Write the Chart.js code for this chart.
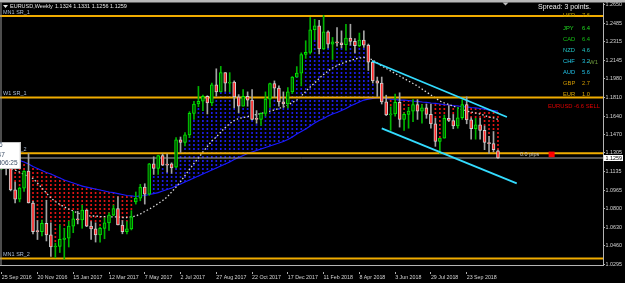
<!DOCTYPE html>
<html><head><meta charset="utf-8">
<script src="https://cdn.jsdelivr.net/npm/chart.js@4.4.1/dist/chart.umd.min.js"></script>
<style>html,body{margin:0;padding:0;background:#000;overflow:hidden}canvas{display:block}</style>
</head><body><canvas id="c" width="625" height="283"></canvas>
<script>
// ---- data (weekly EURUSD, week index 0 = 25 Sep 2016) ----
const opens=[1.1225,1.1240,1.1200,1.0970,1.0885,1.0985,1.1140,1.0850,1.0590,1.0590,
1.0665,1.0560,1.0450,1.0455,1.0520,1.0530,1.0640,1.0705,1.0697,1.0785,
1.0640,1.0615,1.0560,1.0620,1.0670,1.0740,1.0800,1.0650,1.0590,1.0615,
1.0860,1.0895,1.0995,1.0930,1.1205,1.1165,1.1280,1.1200,1.1205,1.1175,
1.1425,1.1400,1.1470,1.1665,1.1750,1.1775,1.1820,1.1760,1.1925,1.1860,
1.2035,1.1940,1.1950,1.1815,1.1730,1.1820,1.1785,1.1610,1.1610,1.1665,
1.1795,1.1935,1.1895,1.1770,1.1750,1.1860,1.1995,1.2030,1.2200,1.2220,
1.2425,1.2460,1.2250,1.2405,1.2295,1.2315,1.2305,1.2290,1.2350,1.2320,
1.2280,1.2330,1.2285,1.2130,1.1960,1.1940,1.1770,1.1650,1.1660,1.1765,
1.1610,1.1655,1.1685,1.1745,1.1685,1.1715,1.1655,1.1570,1.1410,1.1440,
1.1620,1.1600,1.1550,1.1625,1.1745,1.1605,1.1525,1.1560,1.1510,1.1400,
1.1390,1.1324];
const highs=[1.1281,1.1259,1.1215,1.1040,1.0995,1.1145,1.1300,1.0865,1.0690,1.0695,
1.0875,1.0670,1.0485,1.0652,1.0620,1.0685,1.0775,1.0775,1.0830,1.0790,
1.0680,1.0670,1.0630,1.0715,1.0760,1.0830,1.0905,1.0690,1.0680,1.0780,
1.0950,1.1020,1.1025,1.1210,1.1270,1.1285,1.1295,1.1295,1.1215,1.1445,
1.1450,1.1490,1.1680,1.1775,1.1910,1.1830,1.1825,1.1940,1.2070,1.2092,
1.2035,1.2035,1.1960,1.1835,1.1880,1.1860,1.1880,1.1690,1.1670,1.1860,
1.1940,1.1960,1.1915,1.1860,1.1900,1.2000,1.2090,1.2215,1.2325,1.2537,
1.2520,1.2510,1.2555,1.2415,1.2355,1.2445,1.2415,1.2475,1.2475,1.2345,
1.2395,1.2415,1.2295,1.2145,1.1995,1.1995,1.1830,1.1725,1.1840,1.1852,
1.1670,1.1720,1.1790,1.1790,1.1745,1.1750,1.1750,1.1620,1.1435,1.1650,
1.1735,1.1655,1.1720,1.1790,1.1815,1.1625,1.1620,1.1620,1.1550,1.1455,
1.1500,1.1331];
const lows=[1.1154,1.1105,1.0960,1.0850,1.0860,1.0955,1.0850,1.0570,1.0518,1.0550,
1.0505,1.0365,1.0352,1.0400,1.0340,1.0450,1.0580,1.0660,1.0620,1.0635,
1.0520,1.0495,1.0495,1.0525,1.0600,1.0735,1.0650,1.0570,1.0570,1.0605,
1.0840,1.0870,1.0840,1.0920,1.1110,1.1110,1.1190,1.1130,1.1120,1.1170,
1.1310,1.1370,1.1445,1.1610,1.1725,1.1690,1.1660,1.1735,1.1825,1.1860,
1.1865,1.1860,1.1715,1.1670,1.1730,1.1730,1.1605,1.1575,1.1555,1.1640,
1.1720,1.1810,1.1730,1.1720,1.1715,1.1845,1.1995,1.1915,1.2165,1.2205,
1.2335,1.2205,1.2245,1.2260,1.2155,1.2275,1.2260,1.2240,1.2285,1.2215,
1.2270,1.2265,1.2055,1.1940,1.1820,1.1750,1.1645,1.1510,1.1640,1.1540,
1.1510,1.1530,1.1590,1.1610,1.1575,1.1620,1.1530,1.1365,1.1301,1.1440,
1.1590,1.1525,1.1530,1.1610,1.1570,1.1430,1.1430,1.1430,1.1335,1.1300,
1.1315,1.1256];
const closes=[1.1240,1.1200,1.0970,1.0885,1.0985,1.1140,1.0850,1.0590,1.0590,1.0665,
1.0560,1.0450,1.0455,1.0520,1.0530,1.0640,1.0705,1.0697,1.0785,1.0640,
1.0615,1.0560,1.0620,1.0670,1.0740,1.0800,1.0650,1.0590,1.0615,1.0725,
1.0895,1.0995,1.0930,1.1205,1.1165,1.1280,1.1195,1.1195,1.1170,1.1425,
1.1400,1.1470,1.1665,1.1750,1.1775,1.1820,1.1760,1.1925,1.1860,1.2035,
1.1940,1.1950,1.1815,1.1730,1.1820,1.1785,1.1610,1.1610,1.1665,1.1795,
1.1935,1.1895,1.1770,1.1750,1.1860,1.1995,1.2030,1.2200,1.2220,1.2425,
1.2460,1.2250,1.2405,1.2295,1.2315,1.2305,1.2290,1.2350,1.2320,1.2280,
1.2330,1.2285,1.2130,1.1960,1.1940,1.1770,1.1650,1.1660,1.1765,1.1610,
1.1655,1.1685,1.1745,1.1685,1.1715,1.1655,1.1570,1.1410,1.1440,1.1620,
1.1600,1.1550,1.1625,1.1745,1.1605,1.1525,1.1560,1.1510,1.1400,1.1390,
1.1335,1.1259];
const slowMA=[1.1314,1.1291,1.1273,1.1255,1.1236,1.1223,1.1204,1.1182,1.1164,1.1145,
1.1127,1.1114,1.1095,1.1077,1.1059,1.1045,1.1032,1.1018,1.1004,1.0995,
1.0986,1.0977,1.0968,1.0959,1.0950,1.0945,1.0936,1.0927,1.0918,1.0914,
1.0909,1.0914,1.0918,1.0927,1.0936,1.0945,1.0959,1.0973,1.0986,1.1004,
1.1023,1.1041,1.1059,1.1077,1.1095,1.1114,1.1132,1.1150,1.1168,1.1186,
1.1204,1.1223,1.1245,1.1264,1.1282,1.1300,1.1314,1.1327,1.1341,1.1355,
1.1368,1.1382,1.1395,1.1409,1.1427,1.1450,1.1477,1.1500,1.1523,1.1550,
1.1577,1.1600,1.1618,1.1641,1.1659,1.1673,1.1691,1.1709,1.1732,1.1750,
1.1768,1.1786,1.1795,1.1800,1.1805,1.1805,1.1800,1.1795,1.1791,1.1786,
1.1786,1.1782,1.1777,1.1773,1.1768,1.1764,1.1759,1.1755,1.1750,1.1745,
1.1741,1.1736,1.1732,1.1727,1.1723,1.1718,1.1714,1.1709,1.1705,1.1695,
1.1691,1.1686];
const fastMA=[1.1205,1.1186,1.1168,1.1150,1.1132,1.1109,1.1091,1.1073,1.1032,1.0986,
1.0941,1.0895,1.0864,1.0836,1.0814,1.0795,1.0777,1.0759,1.0745,1.0736,
1.0732,1.0732,1.0727,1.0727,1.0723,1.0723,1.0723,1.0718,1.0718,1.0723,
1.0732,1.0750,1.0773,1.0795,1.0818,1.0845,1.0873,1.0905,1.0950,1.0995,
1.1045,1.1100,1.1155,1.1209,1.1259,1.1314,1.1364,1.1414,1.1450,1.1495,
1.1536,1.1573,1.1600,1.1618,1.1627,1.1636,1.1645,1.1655,1.1664,1.1673,
1.1686,1.1695,1.1709,1.1723,1.1741,1.1764,1.1786,1.1823,1.1864,1.1905,
1.1941,1.1982,1.2018,1.2050,1.2077,1.2100,1.2118,1.2132,1.2145,1.2159,
1.2168,1.2173,1.2168,1.2150,1.2123,1.2095,1.2073,1.2050,1.2027,1.2005,
1.1982,1.1959,1.1936,1.1914,1.1886,1.1859,1.1832,1.1805,1.1777,1.1759,
1.1745,1.1732,1.1714,1.1700,1.1686,1.1677,1.1668,1.1659,1.1645,1.1632,
1.1623,1.1609];
const xTickIdx=[0,8,16,24,32,40,48,56,64,72,80,88,96,104];
const xTickLabels=["25 Sep 2016","20 Nov 2016","15 Jan 2017","12 Mar 2017","7 May 2017","2 Jul 2017","27 Aug 2017","22 Oct 2017","17 Dec 2017","11 Feb 2018","8 Apr 2018","3 Jun 2018","29 Jul 2018","23 Sep 2018"];
const yTickValues=[1.2650,1.2485,1.2315,1.2145,1.1980,1.1810,1.1640,1.1470,1.1305,1.1135,1.0965,1.0800,1.0630,1.0460,1.0295];
const srLevels=[1.2550,1.1810,1.1302,1.0345];
const srNames=["MN1 SR_1","W1 SR_1","W1 SR_2","MN1 SR_2"];
const channelUpperX=[82.8,113.0], channelUpperY=[1.2141,1.1632];
const channelLowerX=[85.0,115.2], channelLowerY=[1.1529,1.1029];
const currencies=["USD","JPY","CAD","NZD","CHF","AUD","GBP","EUR"];
const strengths=[7.6,6.4,6.4,4.6,3.2,5.6,2.7,1.0];
const pairScore=-6.6;
const spreadPoints=3;

// ---- build library data ----
const N=opens.length, idx=[...Array(N).keys()];
const bull=idx.map(i=>closes[i]>opens[i]);
const mainCanvas=document.getElementById('c');
const mctx=mainCanvas.getContext('2d');
function dashPattern(color){
  const c=document.createElement('canvas');c.width=1;c.height=4;
  const g=c.getContext('2d');g.fillStyle=color;g.fillRect(0,0,1,2);
  return mctx.createPattern(c,'repeat');
}
const histUp=idx.filter(i=>lows[i]>slowMA[i]).map(i=>({x:i,y:[slowMA[i],lows[i]]}));
const histDn=idx.filter(i=>highs[i]<slowMA[i]).map(i=>({x:i,y:[highs[i],slowMA[i]]}));
const FONT="'Liberation Sans', Arial, sans-serif";
const lastI=N-1;

const overlay={
  id:'overlay',
  beforeDraw(chart){const c=chart.ctx;c.save();c.fillStyle='#000';c.fillRect(0,0,chart.width,chart.height);c.restore();},
  afterDraw(chart){
    const c=chart.ctx, xs=chart.scales.x, ys=chart.scales.y;
    c.save();
    function t(s,x,y,col,size,align){c.font=size+'px '+FONT;c.fillStyle=col;c.textAlign=align||'left';c.textBaseline='middle';c.fillText(s,x,y);}
    // window frame
    c.fillStyle='#b8b8b8';c.fillRect(0,0,625,2.5);
    c.fillStyle='#9a9a9a';c.fillRect(0.5,2.5,1,263);
    // chart shift marker
    c.fillStyle='#bdbdbd';c.beginPath();c.moveTo(502.5,2.5);c.lineTo(508.5,2.5);c.lineTo(505.5,5.5);c.closePath();c.fill();
    // header
    c.fillStyle='#e8e8e8';c.beginPath();c.moveTo(3,5);c.lineTo(8,5);c.lineTo(5.5,8);c.closePath();c.fill();
    t('EURUSD,Weekly',10,6.8,'#e6e6e6',5.5);
    t([opens[lastI],highs[lastI],lows[lastI],closes[lastI]].map(v=>v.toFixed(4)).join(' '),55,6.8,'#e6e6e6',5.5);
    // SR labels
    srLevels.forEach((v,k)=>t(srNames[k],3,ys.getPixelForValue(v)-3.8,'#a9bcd6',5.5));
    // info box top-left
    c.fillStyle='#ffffff';c.fillRect(0,142,20.7,26.5);
    c.strokeStyle='#c8c8c8';c.lineWidth=1;c.strokeRect(-1,142.5,21.2,26);
    t('6',2.6,145.6,'#3e5068',6.5,'right');
    t('47',4.8,155,'#3e5068',6.5,'right');
    t('d06:25',17.6,163.3,'#3e5068',6.5,'right');
    // right panel
    t('Spread: '+spreadPoints+' points.',538,6.8,'#f0f0f0',7);
    const cols=['#b9a000','#22dd22','#15c015','#22c4c4','#22c8e6','#22c0e6','#cf9800','#d8a400'];
    const rowY=[15.5,28,39,50,61,72,83,94.2];
    currencies.forEach((cur,k)=>{t(cur,563,rowY[k],cols[k],5.8);t(strengths[k].toFixed(1),582,rowY[k],cols[k],5.8);});
    t('W1',589,62.5,'#6e9a3c',6);
    t('EURUSD '+pairScore.toFixed(1)+' SELL',548,106.7,'#e00000',5.8);
    // pips label + marker
    t('0.0 pips',520,154.3,'#c8c8c8',5.5);
    const mx=xs.getPixelForValue(123), my=ys.getPixelForValue(1.1292);
    c.fillStyle='#ff0000';c.fillRect(mx-3,my-2.8,6,5.6);
    // current price label on axis
    const py=ys.getPixelForValue(closes[lastI]);
    c.fillStyle='#ffffff';c.fillRect(603.5,py-3,19.5,6);
    t(closes[lastI].toFixed(4),605.5,py+0.2,'#000000',5.4);
    c.restore();
  }
};

const barBase={type:'bar',grouped:false};
new Chart(mainCanvas,{
  type:'bar',
  data:{datasets:[
    {...barBase,label:'histDn',data:histDn,backgroundColor:dashPattern('#e01414'),barThickness:1,order:20},
    {...barBase,label:'histUp',data:histUp,backgroundColor:dashPattern('#1c1ce6'),barThickness:1,order:21},
    {type:'line',label:'slow',data:idx.map(i=>({x:i,y:slowMA[i]})),borderColor:'#1a1aff',borderWidth:1.2,pointRadius:0,tension:0,order:15},
    {type:'line',label:'fast',data:idx.map(i=>({x:i,y:fastMA[i]})),borderColor:'#d8d8d8',borderWidth:1.3,borderDash:[1.5,2.2],pointRadius:0,tension:0,order:14},
    ...srLevels.map((v,k)=>({type:'line',label:srNames[k],data:[{x:-2,y:v},{x:140,y:v}],borderColor:'#f0ac00',borderWidth:2,pointRadius:0,order:12})),
    {type:'line',label:'bid',data:[{x:-2,y:closes[lastI]},{x:140,y:closes[lastI]}],borderColor:'#a8a8a8',borderWidth:1,pointRadius:0,order:12},
    {...barBase,label:'wick',data:idx.map(i=>({x:i,y:[lows[i],highs[i]]})),backgroundColor:idx.map(i=>bull[i]?'#00b400':'#a4a4a4'),barThickness:1,order:10},
    {...barBase,label:'body',data:idx.map(i=>({x:i,y:[opens[i],closes[i]]})),backgroundColor:idx.map(i=>bull[i]?'#005a00':'#ff2a2a'),borderColor:idx.map(i=>bull[i]?'#00e800':'#d0d0d0'),borderWidth:1,borderSkipped:false,barThickness:3,minBarLength:1,order:9},
    {type:'line',label:'chanU',data:channelUpperX.map((x,k)=>({x,y:channelUpperY[k]})),borderColor:'#33dcff',borderWidth:1.8,pointRadius:0,order:4},
    {type:'line',label:'chanL',data:channelLowerX.map((x,k)=>({x,y:channelLowerY[k]})),borderColor:'#33dcff',borderWidth:1.8,pointRadius:0,order:4}
  ]},
  options:{
    responsive:false,animation:false,devicePixelRatio:1,
    layout:{padding:{top:3,left:0,right:0,bottom:0}},
    plugins:{legend:{display:false},tooltip:{enabled:false}},
    scales:{
      x:{type:'linear',min:-0.38,max:134.49,offset:false,
        grid:{display:true,drawOnChartArea:false,drawTicks:true,tickLength:9,tickColor:'#b0b0b0',tickBorderDash:[0,6,3,20],offset:false},
        border:{display:true,color:'#b4b4b4',width:1},
        ticks:{autoSkip:false,maxRotation:0,minRotation:0,align:'start',padding:0,color:'#d4d4d4',font:{family:FONT,size:5.3},
          callback:(v)=>{const k=xTickIdx.indexOf(v);return k>=0?xTickLabels[k]:'';}},
        afterBuildTicks:(s)=>{s.ticks=xTickIdx.map(v=>({value:v}));},
        afterFit:(s)=>{s.height=18;s.paddingLeft=0;s.paddingRight=0;}
      },
      y:{type:'linear',position:'right',min:1.028636,max:1.266818,
        grid:{display:true,drawOnChartArea:false,drawTicks:true,tickLength:2,tickColor:'#b0b0b0'},
        border:{display:true,color:'#b4b4b4',width:1},
        ticks:{autoSkip:false,padding:0.5,color:'#d4d4d4',font:{family:FONT,size:5.4},callback:(v)=>Number(v).toFixed(4)},
        afterBuildTicks:(s)=>{s.ticks=yTickValues.map(v=>({value:v}));},
        afterFit:(s)=>{s.width=22;s.paddingTop=0;s.paddingBottom=0;}
      }
    }
  },
  plugins:[overlay]
});
</script></body></html>
